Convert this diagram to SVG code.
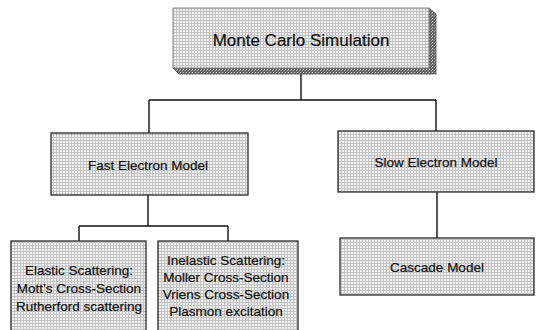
<svg xmlns="http://www.w3.org/2000/svg" width="540" height="330" viewBox="0 0 540 330">
<defs>
<pattern id="dots" width="3" height="3" patternUnits="userSpaceOnUse">
<rect width="3" height="3" fill="#c2c2c2"/>
<rect x="0" y="0" width="2" height="2" fill="#f0f0f0"/>
</pattern>
<pattern id="dark" width="3" height="3" patternUnits="userSpaceOnUse">
<rect width="3" height="3" fill="#6a6a6a"/>
<rect x="0" y="0" width="1" height="1" fill="#c8c8c8"/>
<rect x="2" y="1" width="1" height="1" fill="#a0a0a0"/>
</pattern>
</defs>
<style>
.box{fill:url(#dots);stroke:#2a2a2a;stroke-width:1.3}
.t{font-family:"Liberation Sans",Arial,sans-serif;fill:#111;stroke:#111;stroke-width:0.2;text-anchor:middle}
.s13{font-size:13.5px}
.s17{font-size:17px}
.c{fill:none;stroke:#111;stroke-width:1.4}
</style>
<rect width="540" height="330" fill="#fff"/>
<g id="connectors">
<path class="c" d="M301 74 V100 M149 100 H436 M149 100 V133 M436 100 V131"/>
<path class="c" d="M148 195 V226 M79 226 H228 M79 226 V241 M228 226 V241"/>
<path class="c" d="M437 192 V238"/>
</g>
<g id="monte-carlo">
<polygon points="429,8 436,14 436,74 179,74 173,68 429,68" fill="url(#dark)" stroke="#444" stroke-width="0.8"/>
<rect x="173" y="8" width="256" height="60" fill="url(#dots)" stroke="#888" stroke-width="1"/>
<text class="t s17" x="301" y="45.5">Monte Carlo Simulation</text>
</g>
<g id="fast">
<rect class="box" x="51" y="133" width="197" height="62"/>
<text class="t s13" x="148" y="169.5">Fast Electron Model</text>
</g>
<g id="slow">
<rect class="box" x="338" y="131" width="196" height="61"/>
<text class="t s13" x="436" y="166.5">Slow Electron Model</text>
</g>
<g id="elastic">
<rect class="box" x="11" y="241" width="135" height="92"/>
<text class="t s13" x="79" y="274.5">Elastic Scattering:</text>
<text class="t s13" x="79" y="292.5">Mott’s Cross-Section</text>
<text class="t s13" x="79" y="310.5">Rutherford scattering</text>
</g>
<g id="inelastic">
<rect class="box" x="158" y="241" width="140" height="92"/>
<text class="t s13" x="226" y="264.5">Inelastic Scattering:</text>
<text class="t s13" x="226" y="281.5">Moller Cross-Section</text>
<text class="t s13" x="226" y="298.5">Vriens Cross-Section</text>
<text class="t s13" x="226" y="315.5">Plasmon excitation</text>
</g>
<g id="cascade">
<rect class="box" x="340" y="238" width="194" height="57"/>
<text class="t s13" x="437" y="271.5">Cascade Model</text>
</g>
</svg>
